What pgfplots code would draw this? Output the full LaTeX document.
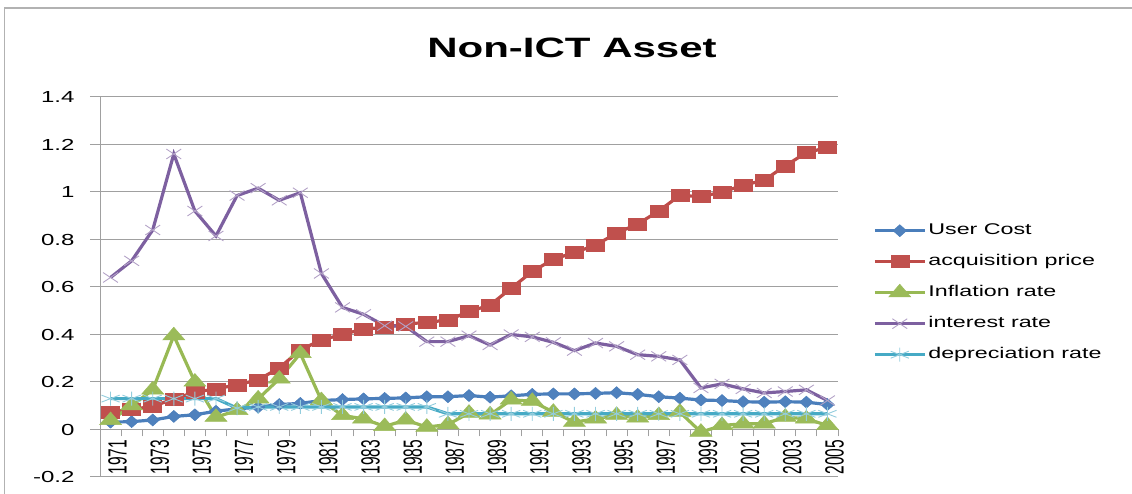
\documentclass[border=0pt]{standalone}
\usepackage{pgfplots}
\pgfplotsset{compat=1.18}
\usepackage{fontspec}
\usepackage{graphicx}
\setmainfont{Liberation Sans}[FakeStretch=1.5]
\newfontfamily\rotfont{Liberation Sans}
\definecolor{gridgray}{HTML}{A0A0A0}
\definecolor{ucL}{HTML}{4A7EBB}
\definecolor{ucM}{HTML}{4F81BD}
\definecolor{apL}{HTML}{BE4B48}
\definecolor{apM}{HTML}{C0504D}
\definecolor{inL}{HTML}{98B954}
\definecolor{inM}{HTML}{9BBB59}
\definecolor{irL}{HTML}{7D60A0}
\definecolor{irM}{HTML}{B3A2C7}
\definecolor{drL}{HTML}{46AAC5}
\definecolor{drM}{HTML}{93CDDD}
\newcommand\yr[1]{\scalebox{1}[1.7]{#1}}

\pgfplotstableread{
x uc ap inf ir dr
1 0.031 0.073 0.038 0.640 0.130
2 0.033 0.085 0.100 0.710 0.130
3 0.040 0.097 0.167 0.840 0.130
4 0.055 0.129 0.395 1.160 0.130
5 0.062 0.157 0.200 0.920 0.130
6 0.077 0.171 0.052 0.815 0.130
7 0.087 0.188 0.080 0.985 0.090
8 0.094 0.209 0.129 1.016 0.095
9 0.105 0.259 0.213 0.965 0.095
10 0.110 0.335 0.320 0.997 0.095
11 0.122 0.377 0.122 0.657 0.095
12 0.126 0.400 0.059 0.514 0.095
13 0.129 0.423 0.045 0.485 0.095
14 0.131 0.430 0.013 0.437 0.095
15 0.133 0.444 0.040 0.434 0.095
16 0.138 0.451 0.010 0.370 0.095
17 0.138 0.461 0.021 0.370 0.066
18 0.143 0.496 0.069 0.395 0.066
19 0.136 0.524 0.062 0.356 0.066
20 0.142 0.595 0.125 0.400 0.066
21 0.148 0.665 0.119 0.390 0.066
22 0.150 0.717 0.073 0.367 0.066
23 0.150 0.745 0.031 0.332 0.066
24 0.152 0.776 0.045 0.364 0.066
25 0.155 0.827 0.060 0.350 0.066
26 0.148 0.865 0.049 0.315 0.066
27 0.138 0.920 0.059 0.308 0.066
28 0.132 0.986 0.073 0.293 0.066
29 0.124 0.980 -0.011 0.175 0.066
30 0.122 1.000 0.017 0.192 0.066
31 0.117 1.028 0.024 0.171 0.066
32 0.115 1.050 0.024 0.154 0.066
33 0.117 1.110 0.052 0.160 0.066
34 0.115 1.166 0.045 0.167 0.066
35 0.105 1.187 0.017 0.122 0.066
}\datatable

\begin{document}
\begin{tikzpicture}
\useasboundingbox (0,0) rectangle (1132pt,494pt);
\draw[color=gray!60, line width=1.5pt] (4.5pt,0pt) -- (4.5pt,486pt) -- (1132pt,486pt);
\node[font=\bfseries\fontsize{28}{32}\selectfont] at (572pt,446pt) {Non-ICT Asset};
\begin{axis}[
  at={(100pt,17pt)}, anchor=south west,
  scale only axis, width=738pt, height=380pt,
  xmin=0.5, xmax=35.5, ymin=-0.2, ymax=1.4,
  axis y line=left, axis x line=middle,
  hide obscured x ticks=false, hide obscured y ticks=false,
  axis line style={-, draw=gridgray, line width=1pt},
  ytick={-0.2,0,0.2,0.4,0.6,0.8,1,1.2,1.4},
  yticklabels={-0.2,0,0.2,0.4,0.6,0.8,1,1.2,1.4},
  ymajorgrids, grid style={gridgray, line width=1pt},
  tick align=outside, major tick length=10pt, minor tick length=7pt,
  tick style={gridgray, line width=1pt},
  major x tick style={draw=none},
  xtick={1,3,...,35},
  minor xtick={0.5,1.5,...,35.5},
  xticklabels={\yr{1971},\yr{1973},\yr{1975},\yr{1977},\yr{1979},\yr{1981},\yr{1983},\yr{1985},\yr{1987},\yr{1989},\yr{1991},\yr{1993},\yr{1995},\yr{1997},\yr{1999},\yr{2001},\yr{2003},\yr{2005}},
  xticklabel style={font=\rotfont\fontsize{15.5}{17}\selectfont, rotate=90, anchor=east, xshift=3pt, yshift=-7pt},
  yticklabel style={font=\fontsize{16}{18}\selectfont, anchor=east, xshift=-12pt},
  clip=false,
  legend style={draw=none, fill=none, at={(axis description cs:1.0474,0.675)}, anchor=north west,
    inner sep=0pt, row sep=11pt, column sep=0pt,
    nodes={inner sep=2pt, text height=12pt, text depth=4pt},
    font=\fontsize{15.5}{18}\selectfont},
  legend cell align=left,
  legend image code/.code={\draw[mark repeat=2, mark phase=2] plot coordinates {(0pt,0pt) (25pt,0pt) (50pt,0pt)};},
]
\addplot[color=ucL, line width=3.2pt, mark=diamond*, mark size=6pt,
  mark options={xscale=1.5, fill=ucM, draw=ucL, line width=0.5pt}] table[x=x, y=uc] {\datatable};
\addplot[color=apL, line width=3.2pt, mark=square*, mark size=6pt,
  mark options={xscale=1.5, fill=apM, draw=apM, line width=0.5pt}] table[x=x, y=ap] {\datatable};
\addplot[color=inL, line width=3.2pt, mark=triangle*, mark size=8.5pt,
  mark options={xscale=1.5, fill=inM, draw=inM, line width=0.5pt}] table[x=x, y=inf] {\datatable};
\addplot[color=irL, line width=3.2pt, mark=x, mark size=7pt,
  mark options={xscale=1.5, draw=irM, line width=0.9pt}] table[x=x, y=ir] {\datatable};
\addplot[color=drL, line width=3.2pt, mark=asterisk, mark size=7pt,
  mark options={xscale=1.5, draw=drM, line width=0.9pt}] table[x=x, y=dr] {\datatable};
\legend{User Cost, acquisition price, Inflation rate, interest rate, depreciation rate}
\end{axis}
\end{tikzpicture}
\end{document}
